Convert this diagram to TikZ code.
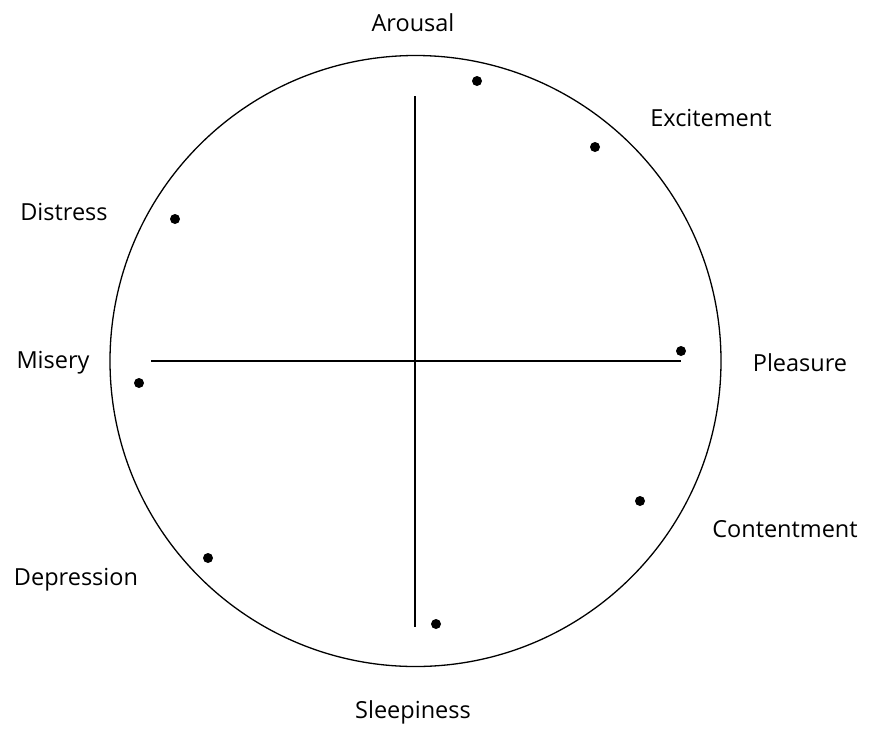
\documentclass[tikz,border=0pt]{standalone}
\usepackage{fontspec}
\setmainfont{Open Sans}
\begin{document}
\begin{tikzpicture}[x=1pt,y=-1pt,
  lbl/.style={font=\fontsize{23.5}{28}\selectfont, inner sep=0pt},
  pt/.style={circle, fill=black, inner sep=0pt, minimum size=10pt},
  ln/.style={line width=1.5pt}]
\useasboundingbox (0,0) rectangle (870,729);
\node[circle, draw, line width=1.3pt, minimum size=611pt, inner sep=0pt] (c) at (415.5,361) {};
\coordinate (vt) at (415,96);
\coordinate (vb) at (415,627);
\coordinate (hl) at (151,361);
\coordinate (hr) at (681,361);
\draw[ln] (vt) -- (vb);
\draw[ln] (hl) -- (hr);
\node[pt] (d1) at (477,81) {};
\node[pt] (d2) at (595,147) {};
\node[pt] (d3) at (175,219) {};
\node[pt] (d4) at (681,351) {};
\node[pt] (d5) at (139,383) {};
\node[pt] (d6) at (640,501) {};
\node[pt] (d7) at (208,558) {};
\node[pt] (d8) at (436,624) {};
\node[lbl] (arousal) at (413,23) {Arousal};
\node[lbl] (excite) at (711,118) {Excitement};
\node[lbl] (distress) at (64,212) {Distress};
\node[lbl] (misery) at (53,363) {Misery};
\node[lbl] (pleasure) at (800,363) {Pleasure};
\node[lbl] (content) at (785,529) {Contentment};
\node[lbl] (depress) at (76,580) {Depression};
\node[lbl] (sleep) at (413,712) {Sleepiness};
\end{tikzpicture}
\end{document}
